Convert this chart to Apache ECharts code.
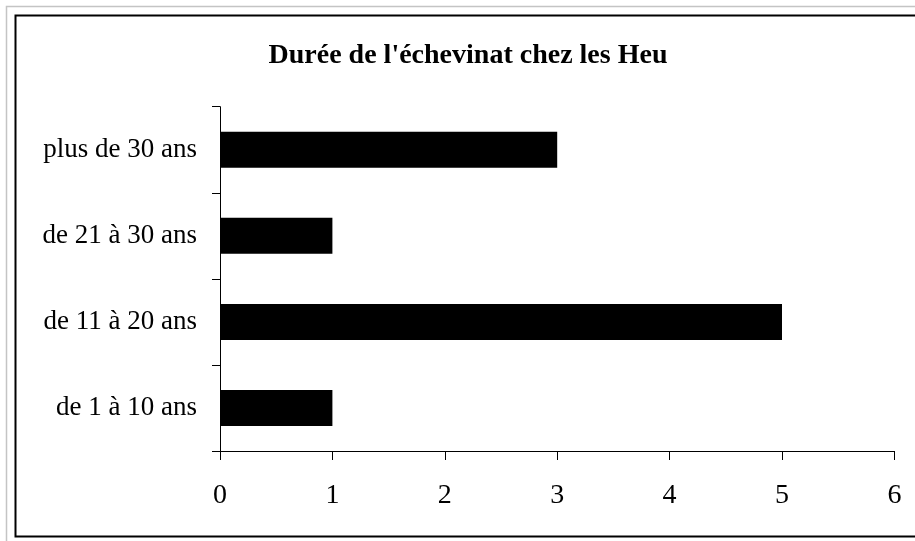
<!DOCTYPE html>
<html>
<head>
<meta charset="utf-8">
<script src="https://cdn.jsdelivr.net/npm/echarts@6/dist/echarts.min.js"></script>
<style>
  html, body { margin: 0; padding: 0; background: #fff; }
  #chart { width: 915px; height: 541px; }
</style>
</head>
<body>
<div id="chart"></div>
<script>
// Duration categories (bottom to top) and number of aldermen in each
const categories = ['de 1 à 10 ans', 'de 11 à 20 ans', 'de 21 à 30 ans', 'plus de 30 ans'];
const counts = [1, 5, 1, 3];
const xTicks = [0, 1, 2, 3, 4, 5, 6];
const titleText = "Durée de l'échevinat chez les Heu";

const chart = echarts.init(document.getElementById('chart'), null, { renderer: 'canvas' });
const serif = '"Liberation Serif", "Times New Roman", serif';

chart.setOption({
  animation: false,
  backgroundColor: '#ffffff',
  title: {
    text: titleText,
    left: 463,
    top: 37,
    textAlign: 'center',
    textStyle: { fontFamily: serif, fontWeight: 'bold', fontSize: 28, color: '#000' }
  },
  graphic: [
    { type: 'rect', shape: { x: 6.5, y: 6.5, width: 1000, height: 1000 },
      style: { fill: 'none', stroke: '#c4c4c4', lineWidth: 1.5 }, silent: true },
    { type: 'rect', shape: { x: 15.5, y: 15.5, width: 1000, height: 521 },
      style: { fill: 'none', stroke: '#000', lineWidth: 2 }, silent: true }
  ],
  grid: { left: 220, right: 20.6, top: 106.7, bottom: 90, containLabel: false },
  xAxis: {
    type: 'value',
    min: xTicks[0],
    max: xTicks[xTicks.length - 1],
    interval: 1,
    axisLine: { show: true, lineStyle: { color: '#000', width: 1 } },
    axisTick: { show: true, length: 9, lineStyle: { color: '#000' } },
    splitLine: { show: false },
    axisLabel: { margin: 31, fontFamily: serif, fontSize: 28, color: '#000' }
  },
  yAxis: {
    type: 'category',
    data: categories,
    axisLine: { show: true, lineStyle: { color: '#000', width: 1 } },
    axisTick: { show: true, length: 8, lineStyle: { color: '#000' } },
    axisLabel: { margin: 23, padding: [5, 0, 0, 0], fontFamily: serif, fontSize: 27, color: '#000' }
  },
  series: [{
    type: 'bar',
    data: counts,
    barWidth: 36,
    itemStyle: { color: '#000' }
  }]
});
</script>
</body>
</html>
